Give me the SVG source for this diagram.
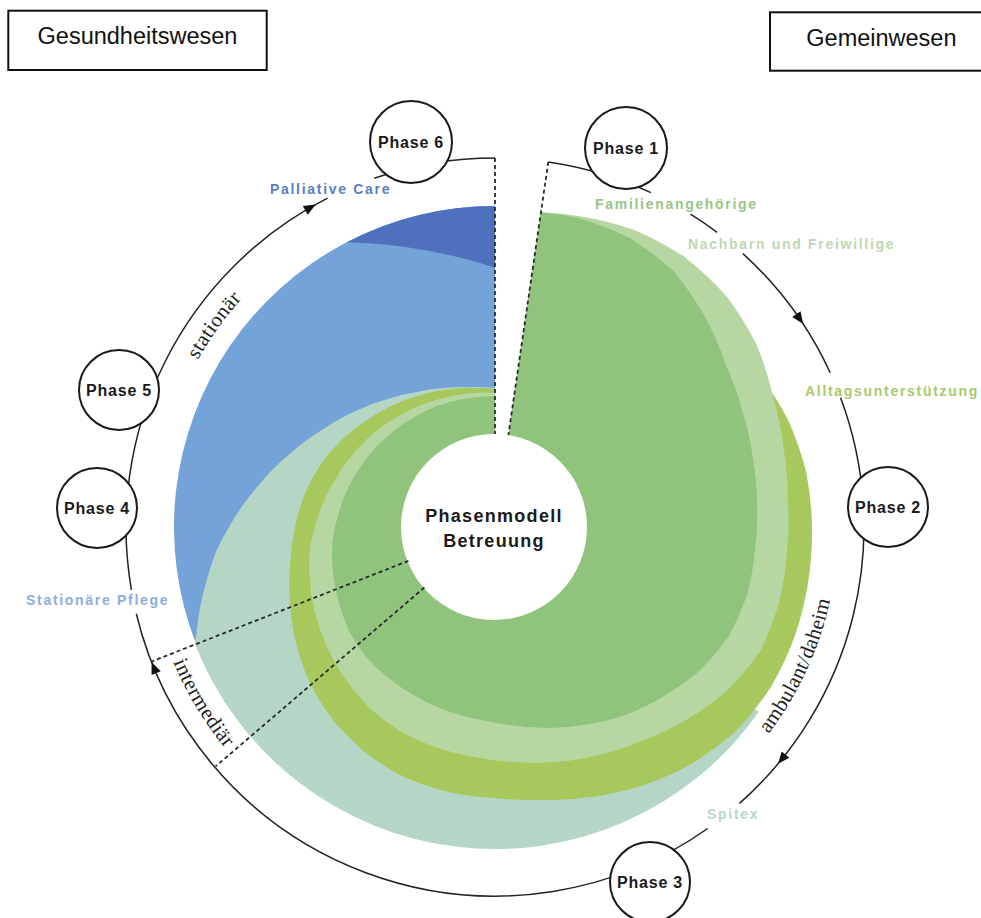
<svg xmlns="http://www.w3.org/2000/svg" width="981" height="918" viewBox="0 0 981 918">
<style>
.box{fill:#fff;stroke:#111;stroke-width:2}
.boxt{font-family:"Liberation Sans",Arial,sans-serif;font-size:23.5px;fill:#111;text-anchor:middle}
.ph{fill:#fff;stroke:#1a1a1a;stroke-width:2}
.pht{font-family:"Liberation Sans",Arial,sans-serif;font-weight:bold;font-size:16px;letter-spacing:0.8px;fill:#1a1a1a;text-anchor:middle}
.ct{font-family:"Liberation Sans",Arial,sans-serif;font-weight:bold;font-size:18px;letter-spacing:1.3px;fill:#1a1a1a;text-anchor:middle}
.lbl{font-family:"Liberation Sans",Arial,sans-serif;font-weight:bold;font-size:14px;letter-spacing:1.7px}
.arc{fill:none;stroke:#222;stroke-width:1.5}
.dash{fill:none;stroke:#2a2a2a;stroke-width:1.8;stroke-dasharray:4 3}
.ser{font-family:"Liberation Serif","Times New Roman",serif;font-size:21px;fill:#222;letter-spacing:0.4px;text-anchor:middle}
</style>
<defs>
<path id="ah" d="M6,0 L-6,-5 L-6,5 Z" fill="#111"/>
<path id="tp-st" d="M155.7,493.1 A341,341 0 0 1 354.7,216.2"/>
<path id="tp-im" d="M146.1,533.7 A349,349 0 0 0 326.3,832.5"/>
<path id="tp-am" d="M693.2,806.9 A343,343 0 0 0 836.5,495.3"/>
</defs>

<g id="regions">
<path id="r-blue" fill="#74a3da" d="M495,527 L495,206 A321,321 0 0 0 195.9,643.6 Z"/>
<path id="r-darkblue" fill="#4e70bd" d="M495,206 A321,321 0 0 0 346.8,242.3 C390,243 450,252 495,268 Z"/>
<path id="r-teal" fill="#b5d6c4" d="M495,527 L758.8,711.7 A322,322 0 0 1 195.0,644.0 A318,318 0 0 1 196.2,635.8 A305,305 0 0 1 200.4,605.9 A292,292 0 0 1 207.4,577.7 A280,280 0 0 1 216.1,551.4 A266,266 0 0 1 229,527 A253,253 0 0 1 243.0,504.9 A240,240 0 0 1 258.6,485.3 A217,217 0 0 1 291.1,452.8 A197,197 0 0 1 324.4,428.5 A181,181 0 0 1 356.4,410.7 A167,167 0 0 1 387.7,399.1 A156,156 0 0 1 417,391.9 A148,148 0 0 1 444.4,387.9 A142,142 0 0 1 470.3,387.2 A139,139 0 0 1 495,388 Z"/>
<path id="r-olive" fill="#a6c85c" d="M495,527 L759.1,374.5 A312,312 0 0 1 788.2,420.3 A316,316 0 0 1 806.2,472.1 A317,317 0 0 1 812,527 A318,318 0 0 1 808.2,582.2 A319,319 0 0 1 794.8,636.1 A319,319 0 0 1 771.3,686.5 A316,316 0 0 1 737.1,730.1 A308,308 0 0 1 693.0,762.9 A298,298 0 0 1 644,785.1 A287,287 0 0 1 593.2,796.7 A277,277 0 0 1 543.1,799.8 A271,271 0 0 1 495,798 A269,269 0 0 1 448.3,791.9 A266,266 0 0 1 404.0,777.0 A260,260 0 0 1 365,752.2 A252,252 0 0 1 333.0,720.0 A242,242 0 0 1 309.6,682.6 A230,230 0 0 1 295.8,642 A218,218 0 0 1 290.1,601.6 A208,208 0 0 1 290.2,563.1 A200,200 0 0 1 295,527 A193,193 0 0 1 304.9,493.5 A185,185 0 0 1 321.2,463.7 A176,176 0 0 1 342.6,439 A167,167 0 0 1 367.1,419.7 A159,159 0 0 1 392.8,405.2 A152,152 0 0 1 419,395.4 A146,146 0 0 1 445.1,389.8 A141,141 0 0 1 470.5,388.1 A138,138 0 0 1 495,389 Z"/>
<path id="r-palegreen" fill="#b6d7a2" d="M495,527 L540.9,212.3 A322,322 0 0 1 578.3,216.0 A328,328 0 0 1 633.6,229.7 A330,330 0 0 1 684.3,256.7 A327,327 0 0 1 726.2,295.8 A319,319 0 0 1 756.3,344.0 A307,307 0 0 1 773.2,397.3 A299,299 0 0 1 783.8,449.6 A294,294 0 0 1 787.9,501.4 A293,293 0 0 1 786.9,552.5 A294,294 0 0 1 779.0,603.1 A293,293 0 0 1 760.5,650.8 A284,284 0 0 1 727.7,689.9 A272,272 0 0 1 687.3,719.3 A260,260 0 0 1 644.1,740.0 A251,251 0 0 1 601.1,754.5 A243,243 0 0 1 557.9,761.7 A236,236 0 0 1 515.6,762.1 A231,231 0 0 1 474.9,757.1 A228,228 0 0 1 436.0,747.2 A225,225 0 0 1 399.9,730.9 A220,220 0 0 1 368.8,707.2 A213,213 0 0 1 344.4,677.6 A206,206 0 0 1 326.2,645.2 A199,199 0 0 1 314.6,611.1 A192,192 0 0 1 309.5,576.7 A185,185 0 0 1 310.7,543.1 A176,176 0 0 1 319.7,511.7 A168,168 0 0 1 332.7,483.5 A161,161 0 0 1 349.1,459.0 A155,155 0 0 1 368.0,438.1 A149,149 0 0 1 389.6,421.6 A144,144 0 0 1 412.4,409.0 A140,140 0 0 1 435.8,400.1 A137,137 0 0 1 459.5,394.7 A135,135 0 0 1 483.2,392.5 A134,134 0 0 1 495,393 Z"/>
<path id="r-green" fill="#90c47c" d="M495,527 L540.9,212.3 A320,320 0 0 1 577.8,217.9 A319,319 0 0 1 629.8,237.9 A312,312 0 0 1 674.0,271.4 A297,297 0 0 1 705.0,317.0 A282,282 0 0 1 726.0,365.2 A273,273 0 0 1 742.4,411.6 A267,267 0 0 1 752.9,457.9 A263,263 0 0 1 757.0,504.1 A261,261 0 0 1 755.0,549.8 A261,261 0 0 1 747.1,594.5 A258,258 0 0 1 728.8,636.0 A250,250 0 0 1 699.8,670.4 A239,239 0 0 1 664.0,696.0 A229,229 0 0 1 626.4,714.6 A218,218 0 0 1 587.1,724.6 A208,208 0 0 1 548.8,727.9 A199,199 0 0 1 512.4,725.2 A193,193 0 0 1 478.2,719.3 A190,190 0 0 1 445.8,710.5 A187,187 0 0 1 416.0,696.5 A185,185 0 0 1 388.9,678.6 A183,183 0 0 1 365.6,656.4 A179,179 0 0 1 348.4,629.7 A173,173 0 0 1 338.2,600.1 A168,168 0 0 1 332.7,570.5 A163,163 0 0 1 332.6,541.2 A157,157 0 0 1 338.6,513.3 A152,152 0 0 1 348.2,487.7 A147,147 0 0 1 361.8,464.9 A143,143 0 0 1 377.9,445.0 A139,139 0 0 1 396.7,428.7 A136,136 0 0 1 417.0,415.6 A134,134 0 0 1 438.4,405.6 A132,132 0 0 1 460.8,399.5 A131,131 0 0 1 483.6,396.5 A131,131 0 0 1 495,396 Z"/>
</g>

<g id="node-center">
<circle cx="494" cy="527" r="93" fill="#fff"/>
<text class="ct" x="494" y="521.5">Phasenmodell</text>
<text class="ct" x="494" y="546.5">Betreuung</text>
</g>

<g id="connectors">
<path class="dash" d="M495,158 L495,434"/>
<path class="dash" d="M548.3,162 L508.4,435"/>
<path class="dash" d="M408.4,560.9 L151.4,661.6"/>
<path class="dash" d="M424.4,587.5 L215.6,766.4"/>
<path class="arc" d="M374.3,178.3 A369,369 0 0 1 495,158"/>
<path class="arc" d="M548.3,161.9 A369,369 0 0 1 650.9,192.6"/>
<path class="arc" d="M690.5,214.1 A369,369 0 0 1 717.1,232.3"/>
<path class="arc" d="M742.9,253.6 A369,369 0 0 1 830.2,372.8"/>
<path class="arc" d="M840.6,397.8 A369,369 0 0 1 739.5,803.4"/>
<path class="arc" d="M707.7,828.5 A369,369 0 0 1 136.3,613.8"/>
<path class="arc" d="M131.4,589.8 A369,369 0 0 1 327.5,198.2"/>
<use href="#ah" transform="translate(799.8,319.1) rotate(55.7)"/>
<use href="#ah" transform="translate(781.8,759.2) rotate(129)"/>
<use href="#ah" transform="translate(153.9,667.6) rotate(247.6)"/>
<use href="#ah" transform="translate(310.5,207.4) rotate(330)"/>
<text class="ser"><textPath href="#tp-st" startOffset="50%">stationär</textPath></text>
<text class="ser"><textPath href="#tp-im" startOffset="50%">intermediär</textPath></text>
<text class="ser" style="letter-spacing:0.2px"><textPath href="#tp-am" startOffset="50%">ambulant/daheim</textPath></text>
</g>

<g id="labels">
<text class="lbl" x="270" y="194" fill="#5b7fc1">Palliative Care</text>
<text class="lbl" x="595" y="209" fill="#98c586">Familienangehörige</text>
<text class="lbl" x="688" y="249" fill="#bcd9b0">Nachbarn und Freiwillige</text>
<text class="lbl" x="805" y="396" fill="#a9c96a">Alltagsunterstützung</text>
<text class="lbl" x="26" y="605" fill="#8aaedc">Stationäre Pflege</text>
<text class="lbl" x="707" y="819" fill="#b9d6c8">Spitex</text>
</g>

<g id="phase-1"><circle class="ph" cx="626" cy="148" r="41"/><text class="pht" x="626" y="154">Phase 1</text></g>
<g id="phase-2"><circle class="ph" cx="888" cy="507" r="40"/><text class="pht" x="888" y="513">Phase 2</text></g>
<g id="phase-3"><circle class="ph" cx="650" cy="882" r="40"/><text class="pht" x="650" y="888">Phase 3</text></g>
<g id="phase-4"><circle class="ph" cx="97" cy="508" r="40"/><text class="pht" x="97" y="514">Phase 4</text></g>
<g id="phase-5"><circle class="ph" cx="119" cy="390" r="40"/><text class="pht" x="119" y="396">Phase 5</text></g>
<g id="phase-6"><circle class="ph" cx="411" cy="142" r="41"/><text class="pht" x="411" y="148">Phase 6</text></g>

<g id="box-gesundheitswesen">
<rect class="box" x="8.3" y="10.7" width="258.4" height="59.3"/>
<text class="boxt" x="137.5" y="44">Gesundheitswesen</text>
</g>
<g id="box-gemeinwesen">
<rect class="box" x="770" y="12.3" width="230" height="58.4"/>
<text class="boxt" x="881.4" y="45.5">Gemeinwesen</text>
</g>
</svg>
